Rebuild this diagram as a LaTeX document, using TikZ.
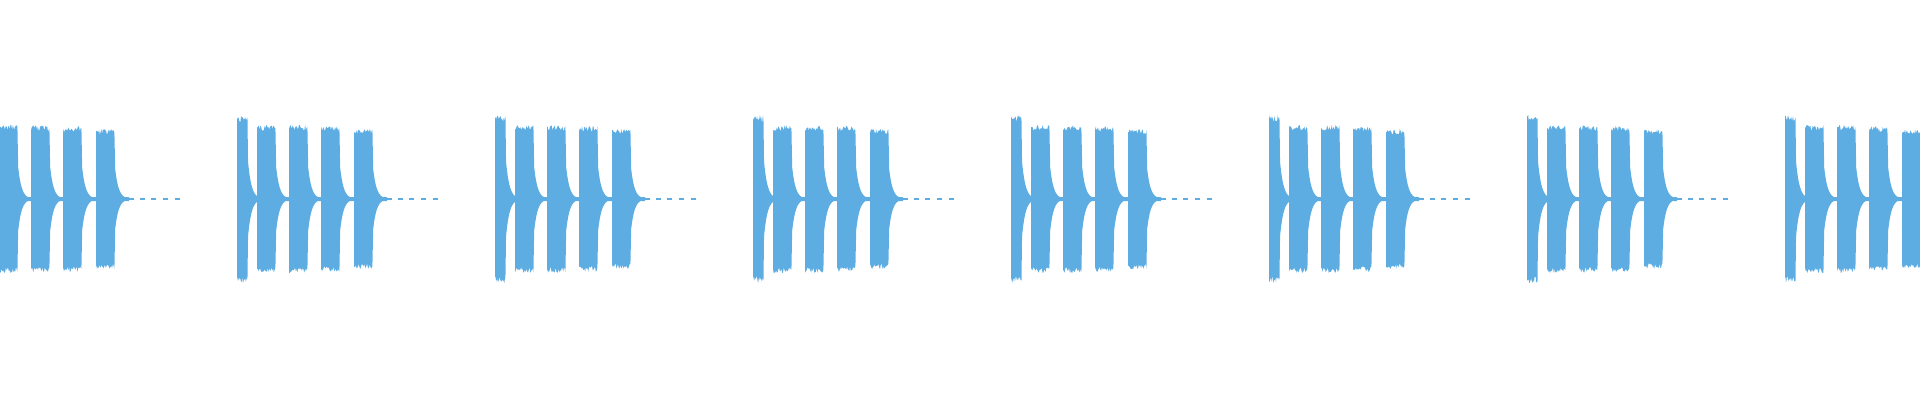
\documentclass[tikz,border=0pt]{standalone}
\definecolor{wavecol}{RGB}{93,172,226}
\tikzset{wave/.style={fill=wavecol}}
\begin{document}
\begin{tikzpicture}[x=1pt,y=1pt,
  declare function={env(\t,\w,\a)=(\t<=\w)?(\a*(0.92+0.08*rnd)):(max(\a*0.45*exp(-max(\t-\w,0)/3.5),2));}]
\useasboundingbox (0,0) rectangle (1920,400);
\clip (0,0) rectangle (1920,400);
\pgfmathsetseed{7}
\foreach \k in {0,...,7}{
  \pgfmathsetmacro\s{-21+258*\k}
  \fill[wave] (\s,199) rectangle (\s+145,203);
  \foreach \o/\w/\A in {0/11/84,20/19/74,52/19/74,84/19/73,117/19/70}{
    \pgfmathsetmacro\xa{\s+\o}
    \pgfmathsetmacro\xb{\s+\o+\w+14}
    \fill[wave] plot[domain=\xa:\xb,samples=44] (\x,{201+env(\x-\xa,\w,\A)})
      -- plot[domain=\xb:\xa,samples=44] (\x,{201-env(\x-\xa,\w,\A)}) -- cycle;
  }
  \foreach \d in {150,161,172,184,196} \fill[wave] (\s+\d,200) rectangle (\s+\d+5,202);
}
\end{tikzpicture}
\end{document}
